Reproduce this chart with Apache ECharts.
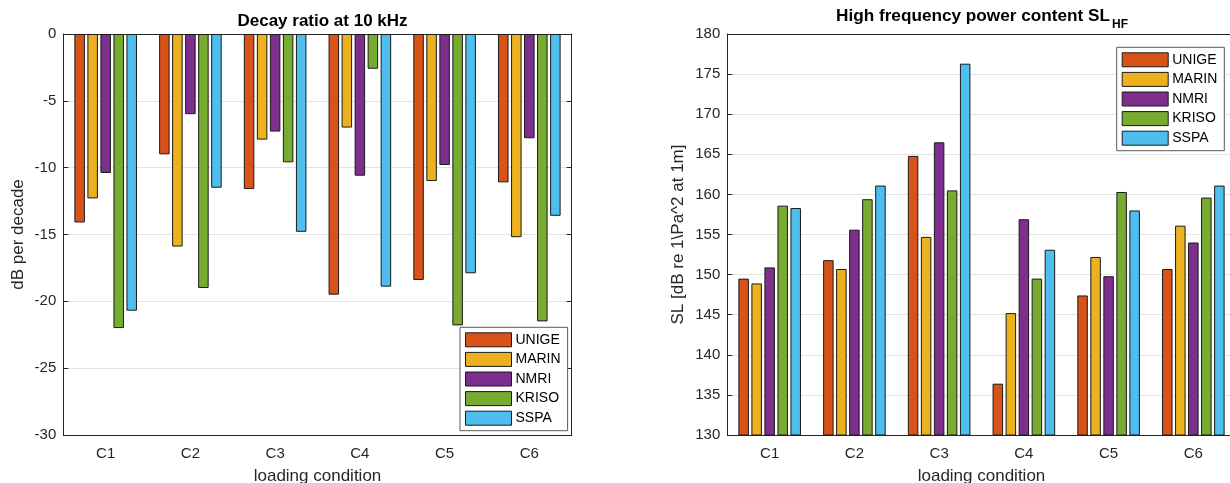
<!DOCTYPE html>
<html>
<head>
<meta charset="utf-8">
<script src="https://cdn.jsdelivr.net/npm/echarts@6/dist/echarts.min.js"></script>
<style>html,body{margin:0;padding:0;background:#fff;}#c{width:1230px;height:483px;}</style>
</head>
<body>
<div id="c"></div>
<script>
const categories = ['C1','C2','C3','C4','C5','C6'];
const seriesNames = ['UNIGE','MARIN','NMRI','KRISO','SSPA'];
const colors = ['#D95319','#EDB120','#7E2F8E','#77AC30','#4DBEEE'];

// Decay ratio at 10 kHz (dB per decade)
const decayUNIGE = [-14.1, -9.0, -11.6, -19.5, -18.4, -11.1];
const decayMARIN = [-12.3, -15.9, -7.9, -7.0, -11.0, -15.2];
const decayNMRI  = [-10.4, -6.0, -7.3, -10.6, -9.8, -7.8];
const decayKRISO = [-22.0, -19.0, -9.6, -2.6, -21.8, -21.5];
const decaySSPA  = [-20.7, -11.5, -14.8, -18.9, -17.9, -13.6];

// High frequency power content SL_HF
const slUNIGE = [149.5, 151.8, 164.8, 136.4, 147.4, 150.7];
const slMARIN = [148.9, 150.7, 154.7, 145.2, 152.2, 156.1];
const slNMRI  = [150.9, 155.6, 166.5, 156.9, 149.8, 154.0];
const slKRISO = [158.6, 159.4, 160.5, 149.5, 160.3, 159.6];
const slSSPA  = [158.3, 161.1, 176.3, 153.1, 158.0, 161.1];

const decayData = [decayUNIGE, decayMARIN, decayNMRI, decayKRISO, decaySSPA];
const slData = [slUNIGE, slMARIN, slNMRI, slKRISO, slSSPA];

const FONT = "'Liberation Sans', Arial, Helvetica, sans-serif";
const AX = '#262626';

function xAxes(gridIndex) {
  return [{
    type: 'category', gridIndex, data: categories, position: 'bottom',
    axisLine: {onZero: false, lineStyle: {color: AX, width: 1}},
    axisTick: {inside: true, length: 5, alignWithLabel: true, lineStyle: {color: AX}},
    axisLabel: {color: AX, fontSize: 15, fontFamily: FONT, margin: 11},
    name: 'loading condition', nameLocation: 'middle', nameGap: 33,
    nameTextStyle: {color: AX, fontSize: 17, fontFamily: FONT}
  }, {
    type: 'category', gridIndex, data: categories, position: 'top',
    axisLine: {onZero: false, lineStyle: {color: AX, width: 1}},
    axisTick: {inside: true, length: 5, alignWithLabel: true, lineStyle: {color: AX}},
    axisLabel: {show: false}
  }];
}
function yAxes(gridIndex, min, max, name, gap) {
  return [{
    type: 'value', gridIndex, min, max, interval: 5, position: 'left',
    axisLine: {show: true, onZero: false, lineStyle: {color: AX, width: 1}},
    axisTick: {show: true, inside: true, length: 5, lineStyle: {color: AX}},
    axisLabel: {color: AX, fontSize: 15, fontFamily: FONT, margin: 7},
    splitLine: {show: true, lineStyle: {color: '#e3e3e3', width: 1}},
    name, nameLocation: 'middle', nameGap: gap,
    nameTextStyle: {color: AX, fontSize: 17, fontFamily: FONT}
  }, {
    type: 'value', gridIndex, min, max, interval: 5, position: 'right',
    axisLine: {show: true, onZero: false, lineStyle: {color: AX, width: 1}},
    axisTick: {show: true, inside: true, length: 5, lineStyle: {color: AX}},
    axisLabel: {show: false}, splitLine: {show: false}
  }];
}

const series = [];
seriesNames.forEach((n, i) => {
  series.push({
    name: n, type: 'bar', xAxisIndex: 0, yAxisIndex: 0, data: decayData[i],
    barWidth: 10.5, barGap: '24%',
    itemStyle: {color: colors[i], borderColor: '#1a1a1a', borderWidth: 1}
  });
});
seriesNames.forEach((n, i) => {
  series.push({
    name: n, type: 'bar', xAxisIndex: 2, yAxisIndex: 2, data: slData[i],
    barWidth: 10.5, barGap: '24%',
    itemStyle: {color: colors[i], borderColor: '#1a1a1a', borderWidth: 1}
  });
});

function legend(left, top) {
  return {
    data: seriesNames, orient: 'vertical', left, top, icon: 'rect',
    itemWidth: 46, itemHeight: 14, itemGap: 4.6, padding: [5, 7, 5, 5],
    borderColor: '#5a5a5a', borderWidth: 1, backgroundColor: '#fff',
    itemStyle: {borderWidth: 1, borderColor: '#1a1a1a'},
    textStyle: {color: '#000', fontSize: 14, lineHeight: 14, fontFamily: FONT, padding: [0, 0, 0, -1]},
    selectedMode: false
  };
}

const option = {
  animation: false,
  backgroundColor: '#fff',
  title: [{
    text: 'Decay ratio at 10 kHz', left: 317.5, top: 8, textAlign: 'center',
    textStyle: {fontSize: 17, fontWeight: 'bold', color: '#000', fontFamily: FONT}
  }, {
    text: '{a|High frequency power content SL}{b|HF}', left: 977, top: 3, textAlign: 'center',
    textStyle: {
      fontFamily: FONT,
      rich: {
        a: {fontSize: 17.2, fontWeight: 'bold', color: '#000', fontFamily: FONT, lineHeight: 20, verticalAlign: 'top'},
        b: {fontSize: 12, fontWeight: 'bold', color: '#000', fontFamily: FONT, lineHeight: 13, padding: [11, 0, 0, 2], verticalAlign: 'top'}
      }
    }
  }],
  legend: [legend(460, 327.3), legend(1116.7, 47.3)],
  grid: [
    {left: 63.3, top: 34, width: 508.4, height: 401, containLabel: false, outerBoundsMode: 'none'},
    {left: 727.3, top: 34, width: 508.4, height: 401, containLabel: false, outerBoundsMode: 'none'}
  ],
  xAxis: [...xAxes(0), ...xAxes(1)],
  yAxis: [...yAxes(0, -30, 0, 'dB per decade', 36), ...yAxes(1, 130, 180, 'SL [dB re 1\\Pa^2 at 1m]', 40)],
  series
};

const chart = echarts.init(document.getElementById('c'), null, {renderer: 'canvas'});
chart.setOption(option);
</script>
</body>
</html>
